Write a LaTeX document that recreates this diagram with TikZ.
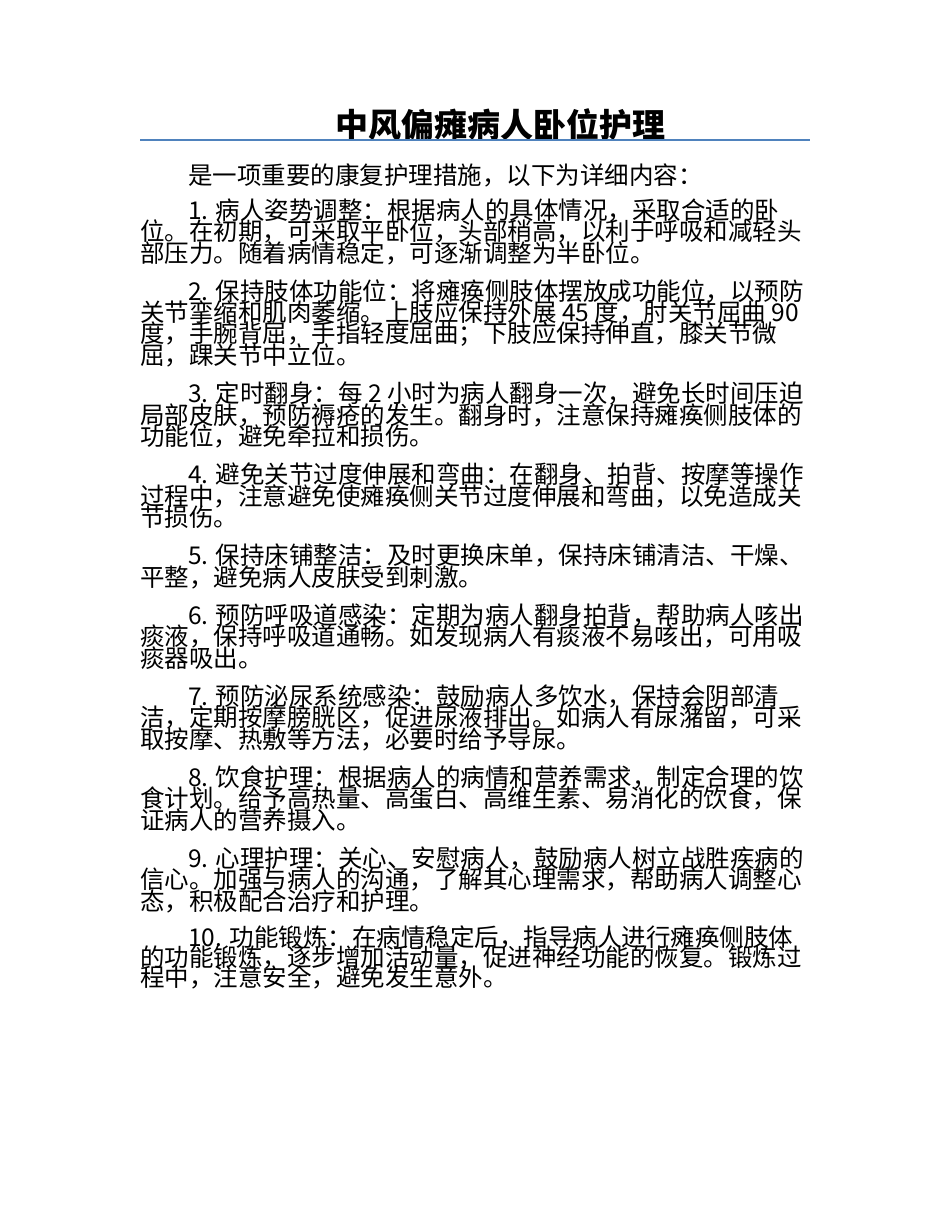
\documentclass[tikz,border=0pt]{standalone}
\usepackage{fontspec}
\newfontfamily\cjk{Noto Sans CJK SC}
\definecolor{rulecolor}{rgb}{0.31,0.51,0.74}
\tikzset{
  body/.style={anchor=west,inner sep=0pt,font=\cjk\fontsize{24.5pt}{24.5pt}\selectfont},
  headline/.style={anchor=center,inner sep=0pt,font=\cjk\bfseries\fontsize{33pt}{33pt}\selectfont}
}
\begin{document}
\begin{tikzpicture}[x=1pt,y=-1pt]
\useasboundingbox[fill=white] (0,0) rectangle (950,1230);
% title
\node[headline] (title) at (500,125) {中风偏瘫病人卧位护理};
\coordinate (ruleL) at (140,140);
\coordinate (ruleR) at (810,140);
\draw[rulecolor,line width=1.5pt] (ruleL) -- (ruleR);
% intro
\node[body] (intro) at (188,175) {是一项重要的康复护理措施，以下为详细内容：};
% 1
\node[body] (p1a) at (188,210) {1. 病人姿势调整：根据病人的具体情况，采取合适的卧};
\node[body] (p1b) at (140,231.5) {位。在初期，可采取平卧位，头部稍高，以利于呼吸和减轻头};
\node[body] (p1c) at (140,253) {部压力。随着病情稳定，可逐渐调整为半卧位。};
% 2
\node[body] (p2a) at (188,291) {2. 保持肢体功能位：将瘫痪侧肢体摆放成功能位，以预防};
\node[body] (p2b) at (140,312.5) {关节挛缩和肌肉萎缩。上肢应保持外展 45 度，肘关节屈曲 90};
\node[body] (p2c) at (140,334) {度，手腕背屈，手指轻度屈曲；下肢应保持伸直，膝关节微};
\node[body] (p2d) at (140,355.5) {屈，踝关节中立位。};
% 3
\node[body] (p3a) at (188,393.5) {3. 定时翻身：每 2 小时为病人翻身一次，避免长时间压迫};
\node[body] (p3b) at (140,415) {局部皮肤，预防褥疮的发生。翻身时，注意保持瘫痪侧肢体的};
\node[body] (p3c) at (140,436.5) {功能位，避免牵拉和损伤。};
% 4
\node[body] (p4a) at (188,474.5) {4. 避免关节过度伸展和弯曲：在翻身、拍背、按摩等操作};
\node[body] (p4b) at (140,496) {过程中，注意避免使瘫痪侧关节过度伸展和弯曲，以免造成关};
\node[body] (p4c) at (140,517.5) {节损伤。};
% 5
\node[body] (p5a) at (188,555.5) {5. 保持床铺整洁：及时更换床单，保持床铺清洁、干燥、};
\node[body] (p5b) at (140,577) {平整，避免病人皮肤受到刺激。};
% 6
\node[body] (p6a) at (188,615) {6. 预防呼吸道感染：定期为病人翻身拍背，帮助病人咳出};
\node[body] (p6b) at (140,636.5) {痰液，保持呼吸道通畅。如发现病人有痰液不易咳出，可用吸};
\node[body] (p6c) at (140,658) {痰器吸出。};
% 7
\node[body] (p7a) at (188,696) {7. 预防泌尿系统感染：鼓励病人多饮水，保持会阴部清};
\node[body] (p7b) at (140,717.5) {洁，定期按摩膀胱区，促进尿液排出。如病人有尿潴留，可采};
\node[body] (p7c) at (140,739) {取按摩、热敷等方法，必要时给予导尿。};
% 8
\node[body] (p8a) at (188,777) {8. 饮食护理：根据病人的病情和营养需求，制定合理的饮};
\node[body] (p8b) at (140,798.5) {食计划。给予高热量、高蛋白、高维生素、易消化的饮食，保};
\node[body] (p8c) at (140,820) {证病人的营养摄入。};
% 9
\node[body] (p9a) at (188,858) {9. 心理护理：关心、安慰病人，鼓励病人树立战胜疾病的};
\node[body] (p9b) at (140,879.5) {信心。加强与病人的沟通，了解其心理需求，帮助病人调整心};
\node[body] (p9c) at (140,901) {态，积极配合治疗和护理。};
% 10
\node[body] (p10a) at (188,937) {10. 功能锻炼：在病情稳定后，指导病人进行瘫痪侧肢体};
\node[body] (p10b) at (140,957) {的功能锻炼，逐步增加活动量，促进神经功能的恢复。锻炼过};
\node[body] (p10c) at (140,977) {程中，注意安全，避免发生意外。};
\end{tikzpicture}
\end{document}
